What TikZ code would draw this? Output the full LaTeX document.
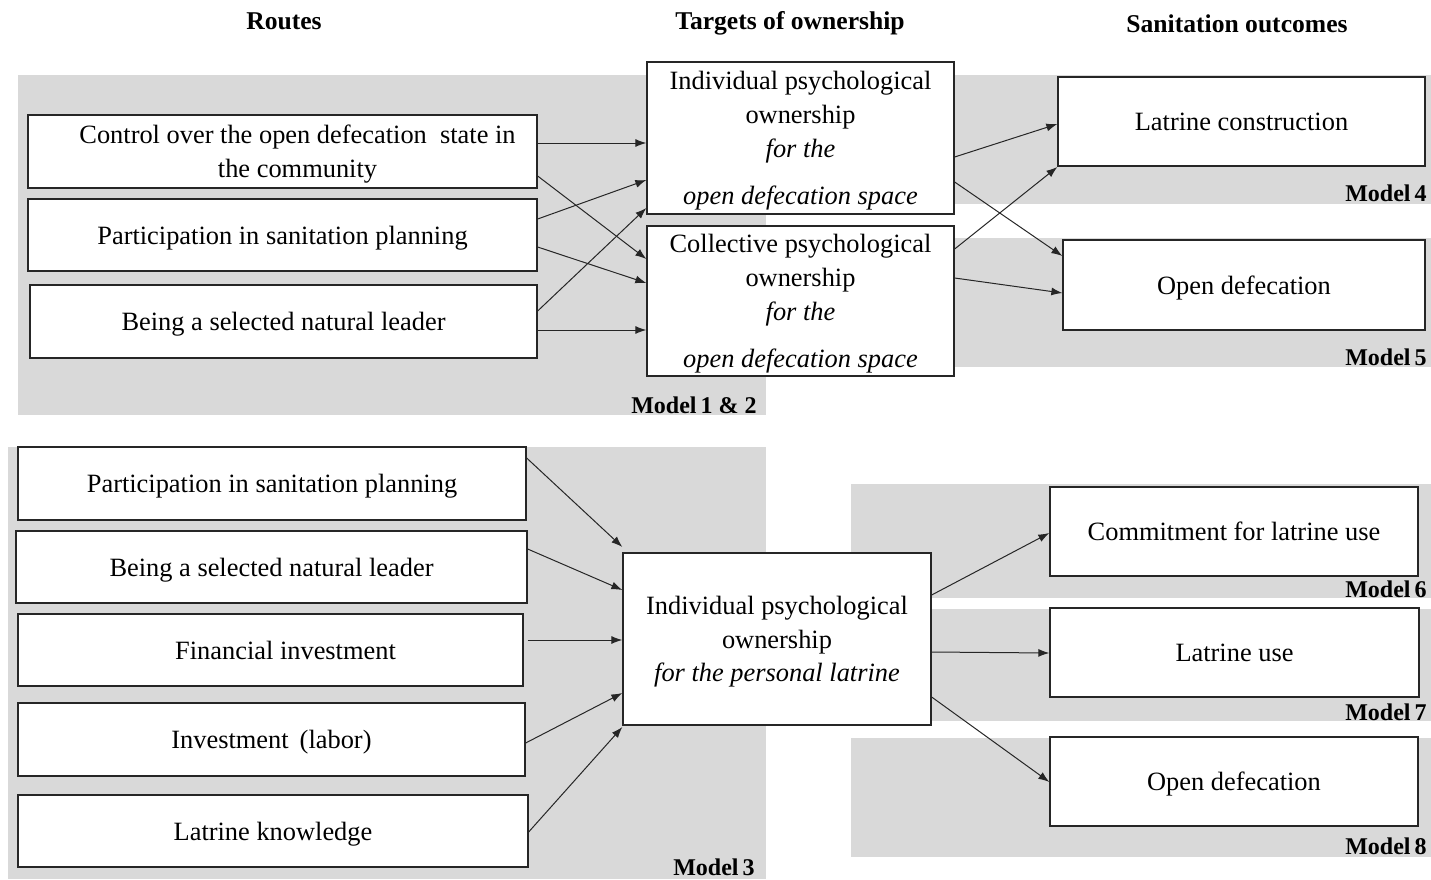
\documentclass[tikz,border=0pt]{standalone}
\usepackage{fontspec}
\setmainfont{Liberation Serif}
\usetikzlibrary{arrows.meta}
\definecolor{bggray}{HTML}{D9D9D9}
\definecolor{linec}{HTML}{262626}
\begin{document}
\begin{tikzpicture}[x=0.5pt,y=-0.5pt,
  box/.style={draw=linec, line width=0.65pt, fill=white, inner sep=0pt, align=center,
    text depth=0pt, font=\fontsize{13.2}{16.9}\selectfont},
  arr/.style={draw=linec, line width=0.5pt, -{Latex[length=5.5pt,width=4pt]}},
  bg/.style={fill=bggray},
  model/.style={font=\bfseries\fontsize{12}{14}\selectfont, anchor=base east, inner sep=0pt},
  title/.style={font=\bfseries\fontsize{12.8}{15}\selectfont, anchor=base, inner sep=0pt}]
\useasboundingbox (0,0) rectangle (1431,879);
% gray backgrounds
\fill[bg] (18,75) rectangle (766,415);
\fill[bg] (900,75) rectangle (1431,204);
\fill[bg] (900,238) rectangle (1431,367);
\fill[bg] (8,447) rectangle (766,879);
\fill[bg] (851,484) rectangle (1431,598);
\fill[bg] (851,609) rectangle (1431,721);
\fill[bg] (851,738) rectangle (1431,857);
% titles
\node[title] (t1) at (284,29) {Routes};
\node[title] (t2) at (790,29) {Targets of ownership};
\node[title] (t3) at (1237,32) {Sanitation outcomes};
% model labels
\node[model] (m12) at (757,413) {Model\,1 \& 2};
\node[model] (m4) at (1427,201) {Model\,4};
\node[model] (m5) at (1427,365) {Model\,5};
\node[model] (m3) at (755,875) {Model\,3};
\node[model] (m6) at (1427,597) {Model\,6};
\node[model] (m7) at (1427,720) {Model\,7};
\node[model] (m8) at (1427,854) {Model\,8};
% top boxes
\node[box, minimum width=254.5pt, minimum height=36.5pt] (a1) at (282.5,151.5)
  {\hspace*{15pt}Control over the open defecation\ \ state in\\\hspace*{15pt}the community};
\node[box, minimum width=254.5pt, minimum height=36pt] (a2) at (282.5,235)
  {Participation in sanitation planning};
\node[box, minimum width=253.5pt, minimum height=36.5pt] (a3) at (283.5,321.5)
  {Being a selected natural leader};
\node[box, minimum width=153.5pt, minimum height=76pt] (i1) at (800.5,138)
  {Individual psychological\\ownership\\\textit{for the}\\[6.6pt]\textit{open defecation space}};
\node[box, minimum width=153.5pt, minimum height=75pt] (c1) at (800.5,301)
  {Collective psychological\\ownership\\\textit{for the}\\[6.6pt]\textit{open defecation space}};
\node[box, minimum width=183.5pt, minimum height=44.5pt] (lc) at (1241.5,121.5)
  {Latrine construction};
\node[box, minimum width=181pt, minimum height=45pt] (od1) at (1244,285)
  {Open defecation};
% bottom boxes
\node[box, minimum width=254pt, minimum height=36.5pt] (b1) at (272,483.5)
  {Participation in sanitation planning};
\node[box, minimum width=255.5pt, minimum height=36pt] (b2) at (271.5,567)
  {Being a selected natural leader};
\node[box, minimum width=252.5pt, minimum height=36pt] (b3) at (270.5,650)
  {\hspace*{15pt}Financial investment};
\node[box, minimum width=253.5pt, minimum height=36.5pt] (b4) at (271.5,739.5)
  {Investment\ \,(labor)};
\node[box, minimum width=255pt, minimum height=36pt] (b5) at (273,831)
  {Latrine knowledge};
\node[box, minimum width=154pt, minimum height=86pt] (ip) at (777,639)
  {Individual psychological\\ownership\\\textit{for the personal latrine}};
\node[box, minimum width=184pt, minimum height=44.5pt] (cl) at (1234,531.5)
  {Commitment\ for latrine use};
\node[box, minimum width=184.5pt, minimum height=44.5pt] (lu) at (1234.5,652.5)
  {Latrine use};
\node[box, minimum width=184pt, minimum height=44.5pt] (od2) at (1234,781.5)
  {Open defecation};
% top arrows
\draw[arr] (a1.east |- 0,143) -- (i1.west |- 0,143);
\draw[arr] (a1.east |- 0,176) -- (c1.west |- 0,259);
\draw[arr] (a2.east |- 0,219) -- (i1.west |- 0,180);
\draw[arr] (a2.east |- 0,247) -- (c1.west |- 0,283);
\draw[arr] (a3.east |- 0,311) -- (i1.west |- 0,208);
\draw[arr] (a3.east |- 0,330) -- (c1.west |- 0,330);
\draw[arr] (i1.east |- 0,157) -- (lc.west |- 0,124);
\draw[arr] (i1.east |- 0,182) -- (od1.west |- 0,256);
\draw[arr] (c1.east |- 0,249) -- (lc.west |- 0,167);
\draw[arr] (c1.east |- 0,278) -- (od1.west |- 0,293);
% bottom arrows
\draw[arr] (b1.east |- 0,458) -- (ip.west |- 0,547);
\draw[arr] (b2.east |- 0,549) -- (ip.west |- 0,590);
\draw[arr] ([xshift=2pt]b3.east |- 0,640) -- (ip.west |- 0,640);
\draw[arr] (b4.east |- 0,743) -- (ip.west |- 0,693);
\draw[arr] (b5.east |- 0,832) -- (ip.west |- 0,727);
\draw[arr] (ip.east |- 0,595) -- (cl.west |- 0,533);
\draw[arr] (ip.east |- 0,652) -- (lu.west |- 0,653);
\draw[arr] (ip.east |- 0,697) -- (od2.west |- 0,782);
\end{tikzpicture}
\end{document}
